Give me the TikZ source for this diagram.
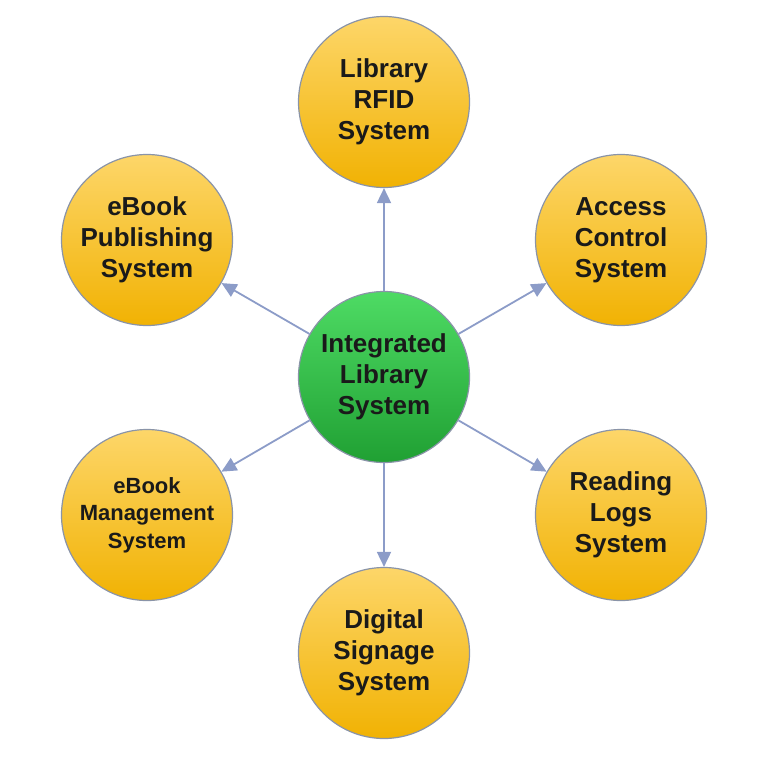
\documentclass[tikz,border=0pt]{standalone}
\usepackage{fontspec}
\setmainfont{Liberation Sans}
\usetikzlibrary{arrows.meta}
\definecolor{yeltop}{HTML}{FDD669}
\definecolor{yelbot}{HTML}{F1B203}
\definecolor{grntop}{HTML}{4EDB64}
\definecolor{grnbot}{HTML}{20A033}
\definecolor{rim}{HTML}{8A94A8}
\definecolor{arr}{HTML}{8C9CC8}
\definecolor{txt}{HTML}{1A1A1A}
\begin{document}
\begin{tikzpicture}[x=1pt,y=-1pt,
 ball/.style={circle, minimum size=171pt, inner sep=0pt, draw=rim, line width=1.2pt, text=txt, font=\bfseries\fontsize{26}{31}\selectfont, align=center},
 yball/.style={ball, top color=yeltop, bottom color=yelbot},
 gball/.style={ball, top color=grntop, bottom color=grnbot},
 link/.style={draw=arr, line width=1.8pt, -{Triangle[length=15pt,width=14pt]}}]
\useasboundingbox (0,0) rectangle (770,760);
\node[gball] (c) at (384,377) {Integrated\\Library\\System};
\node[yball] (t) at (384,102) {Library\\RFID\\System};
\node[yball] (ul) at (147,240) {eBook\\Publishing\\System};
\node[yball] (ur) at (621,240) {Access\\Control\\System};
\node[yball, font=\bfseries\fontsize{22}{27.5}\selectfont] (ll) at (147,515) {eBook\\Management\\System};
\node[yball] (lr) at (621,515) {Reading\\Logs\\System};
\node[yball] (b) at (384,653) {Digital\\Signage\\System};
\foreach \n in {t,ul,ur,ll,lr,b}
  \draw[link] (c) -- (\n);
\end{tikzpicture}
\end{document}
